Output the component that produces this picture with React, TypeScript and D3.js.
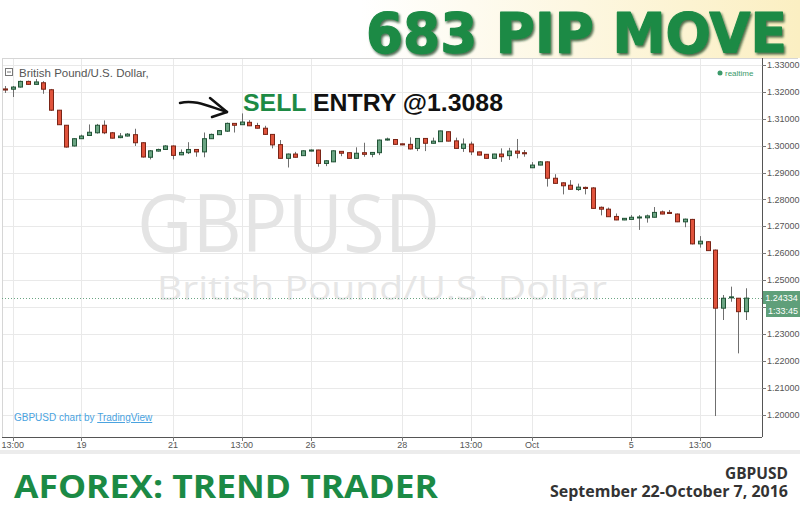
import React from 'react';
import * as d3 from 'd3';

const opens = [1.3211,1.3210,1.3218,1.3239,1.3228,1.3234,1.3208,1.3132,1.3076,1.2999,1.3026,1.3038,1.3048,1.3076,1.3048,1.3030,1.3036,1.3041,1.3011,1.2957,1.2980,1.2986,1.2999,1.2966,1.2974,1.2986,1.2977,1.3026,1.3041,1.3054,1.3083,1.3078,1.3087,1.3075,1.3065,1.3042,1.3004,1.2953,1.2969,1.2963,1.2980,1.2984,1.2934,1.2940,1.2979,1.2974,1.2953,1.2974,1.2968,1.2974,1.3021,1.3023,1.3007,1.3005,1.2990,1.3027,1.3009,1.3015,1.3052,1.3018,1.2990,1.3006,1.2977,1.2968,1.2953,1.2969,1.2963,1.2980,1.2974,1.2918,1.2928,1.2940,1.2879,1.2862,1.2853,1.2837,1.2845,1.2843,1.2771,1.2764,1.2737,1.2724,1.2726,1.2733,1.2732,1.2734,1.2754,1.2752,1.2746,1.2717,1.2726,1.2635,1.2643,1.2612,1.2396,1.2436,1.2433,1.2383];
const highs = [1.3222,1.3222,1.3242,1.3242,1.3248,1.3240,1.3211,1.3133,1.3077,1.3028,1.3041,1.3079,1.3081,1.3094,1.3051,1.3047,1.3047,1.3063,1.3013,1.2984,1.2989,1.3002,1.3001,1.2986,1.3013,1.2987,1.3049,1.3045,1.3058,1.3086,1.3084,1.3120,1.3095,1.3085,1.3074,1.3043,1.3021,1.2971,1.2977,1.2983,1.2986,1.2985,1.2946,1.2983,1.2980,1.2975,1.2994,1.3011,1.2976,1.3023,1.3030,1.3025,1.3008,1.3031,1.3028,1.3028,1.3030,1.3056,1.3053,1.3030,1.3027,1.3015,1.2978,1.2969,1.2970,1.2990,1.2992,1.3025,1.2984,1.2939,1.2943,1.2942,1.2894,1.2864,1.2872,1.2859,1.2848,1.2846,1.2774,1.2770,1.2748,1.2731,1.2742,1.2742,1.2744,1.2772,1.2759,1.2761,1.2748,1.2729,1.2728,1.2664,1.2645,1.2614,1.2445,1.2476,1.2434,1.2470];
const lows = [1.3196,1.3181,1.3216,1.3226,1.3226,1.3193,1.3129,1.3077,1.2993,1.2997,1.3025,1.3036,1.3045,1.3043,1.3027,1.3028,1.3034,1.2999,1.2956,1.2949,1.2978,1.2985,1.2949,1.2965,1.2969,1.2959,1.2957,1.3025,1.3040,1.3051,1.3049,1.3077,1.3073,1.3064,1.3040,1.2990,1.2952,1.2919,1.2956,1.2962,1.2979,1.2922,1.2924,1.2939,1.2961,1.2952,1.2952,1.2959,1.2957,1.2965,1.3019,1.3003,1.3002,1.2986,1.2980,1.2980,1.3008,1.3014,1.3016,1.2989,1.2977,1.2965,1.2964,1.2952,1.2952,1.2940,1.2947,1.2953,1.2959,1.2917,1.2927,1.2848,1.2859,1.2819,1.2837,1.2832,1.2819,1.2765,1.2741,1.2735,1.2723,1.2723,1.2726,1.2687,1.2714,1.2733,1.2745,1.2748,1.2716,1.2697,1.2633,1.2621,1.2609,1.1995,1.2352,1.2420,1.2228,1.2352];
const closes = [1.3207,1.3218,1.3239,1.3228,1.3237,1.3210,1.3132,1.3078,1.2995,1.3026,1.3036,1.3050,1.3076,1.3048,1.3028,1.3036,1.3043,1.3011,1.2958,1.2981,1.2986,1.2999,1.2964,1.2975,1.2986,1.2977,1.3026,1.3042,1.3056,1.3083,1.3076,1.3088,1.3074,1.3065,1.3042,1.3003,1.2953,1.2969,1.2957,1.2981,1.2984,1.2934,1.2944,1.2981,1.2972,1.2953,1.2972,1.2968,1.2975,1.3021,1.3025,1.3005,1.3003,1.2988,1.3027,1.3009,1.3017,1.3055,1.3017,1.2990,1.3006,1.2977,1.2965,1.2953,1.2969,1.2959,1.2980,1.2972,1.2970,1.2928,1.2940,1.2879,1.2860,1.2851,1.2838,1.2846,1.2841,1.2767,1.2764,1.2736,1.2724,1.2730,1.2734,1.2735,1.2739,1.2752,1.2746,1.2748,1.2717,1.2727,1.2635,1.2645,1.2610,1.2396,1.2433,1.2438,1.2383,1.24334];

const xTickIndex = [1, 10, 22, 31, 40, 52, 61, 69, 82, 91];
const xTickLabels = ['13:00', '19', '21', '13:00', '26', '28', '13:00', 'Oct', '5', '13:00'];
const priceTicks = [1.20, 1.21, 1.22, 1.23, 1.24, 1.25, 1.26, 1.27, 1.28, 1.29, 1.30, 1.31, 1.32, 1.33];
const lastPrice = 1.24334;
const countdown = '1:33:45';
const entryLabel = '@1.3088';

export default function App() {
  const plotL = 2, plotR = 762, plotT = 58, plotB = 437;
  const n = opens.length;
  const x = d3.scaleLinear().domain([0, n - 1]).range([5.06, 5.06 + (n - 1) * 7.637]);
  const y = d3.scaleLinear().domain([1.20, 1.33]).range([414.7, 65]);
  const candles = d3.range(n).map(i => ({ o: opens[i], h: highs[i], l: lows[i], c: closes[i], i }));
  const axisFont = "'Liberation Sans', Arial, sans-serif";
  const yLast = y(lastPrice);
  const shownTicks = priceTicks.filter(p => Math.abs(y(p) - (yLast + 6)) > 14);

  return (
    <svg width={800} height={512} viewBox="0 0 800 512" style={{ position: 'absolute', left: 0, top: 0, background: '#fff' }}>
      <defs>
        <linearGradient id="hdr" x1="0" x2="1" y1="0" y2="0">
          <stop offset="0" stopColor="#ffffff" />
          <stop offset="0.45" stopColor="#ffffff" />
          <stop offset="1" stopColor="#fbefc2" />
        </linearGradient>
        <filter id="shadow" x="-5%" y="-20%" width="110%" height="140%">
          <feDropShadow dx="1.5" dy="2" stdDeviation="1" floodColor="#0b3d1d" floodOpacity="0.75" />
        </filter>
      </defs>
      <rect x={0} y={0} width={800} height={512} fill="#fff" />
      <rect x={0} y={0} width={800} height={58} fill="url(#hdr)" />
      <text x={366} y={52} fontFamily="'DejaVu Sans', Verdana, sans-serif" fontWeight="bold" fontSize={56}
        fill="#1b8a45" stroke="#1b8a45" strokeWidth={1.2} strokeLinejoin="round"
        textLength={421} lengthAdjust="spacingAndGlyphs" filter="url(#shadow)">683 PIP MOVE</text>

      {/* panel */}
      <rect x={plotL} y={plotT} width={798 - plotL} height={plotB - plotT} fill="#fff" />
      {priceTicks.map(p => (
        <line key={'h' + p} x1={plotL} x2={plotR} y1={Math.round(y(p)) + 0.5} y2={Math.round(y(p)) + 0.5} stroke="#e9e9e9" strokeWidth={1} />
      ))}
      {xTickIndex.map((t, k) => (
        <line key={'v' + k} x1={Math.round(x(t)) + 0.5} x2={Math.round(x(t)) + 0.5} y1={plotT} y2={plotB} stroke="#e9e9e9" strokeWidth={1} />
      ))}
      <line x1={plotL} x2={798} y1={plotT + 0.5} y2={plotT + 0.5} stroke="#d6d6d6" />
      <line x1={plotL + 0.5} x2={plotL + 0.5} y1={plotT} y2={plotB} stroke="#d6d6d6" />

      {/* watermark */}
      <text x={137} y={252} fontFamily="'Open Sans', sans-serif" fontSize={80} fill="#e4e4e4" textLength={303} lengthAdjust="spacingAndGlyphs">GBPUSD</text>
      <text x={157} y={300} fontFamily="'Open Sans', sans-serif" fontSize={33} fill="#e6e6e6" textLength={450} lengthAdjust="spacingAndGlyphs">British Pound/U.S. Dollar</text>

      {/* legend */}
      <rect x={5.5} y={68.5} width={7} height={7} fill="none" stroke="#777" strokeWidth={1} />
      <line x1={7} x2={11} y1={72} y2={72} stroke="#777" />
      <text x={19} y={77} fontFamily={axisFont} fontSize={11.5} fill="#555">British Pound/U.S. Dollar,</text>
      <circle cx={720} cy={73} r={2.5} fill="#3b9a6a" />
      <text x={725} y={76} fontFamily={axisFont} fontSize={8} fill="#3b9a6a">realtime</text>
      <text x={14} y={421} fontFamily={axisFont} fontSize={10} fill="#4aa3df">GBPUSD chart by <tspan style={{ textDecoration: 'underline' }}>TradingView</tspan></text>

      {/* last price line */}
      <line x1={plotL} x2={plotR} y1={Math.round(yLast) + 0.5} y2={Math.round(yLast) + 0.5} stroke="#6ba583" strokeDasharray="1,2" />

      {/* candles */}
      {candles.map(d => {
        const cx = Math.round(x(d.i));
        const up = d.c >= d.o;
        const top = y(Math.max(d.o, d.c));
        const bot = y(Math.min(d.o, d.c));
        const h = Math.max(1, bot - top);
        return (
          <g key={d.i}>
            <line x1={cx + 0.5} x2={cx + 0.5} y1={y(d.h)} y2={y(d.l)} stroke="#6f6f6f" strokeWidth={1} />
            <rect x={cx - 1.5} y={top} width={4} height={h} fill={up ? '#6ba583' : '#e0533c'} stroke={up ? '#225437' : '#7a2416'} strokeWidth={1} />
          </g>
        );
      })}

      {/* annotation */}
      <path d="M180,103 C195,99 210,107 227,112" fill="none" stroke="#111" strokeWidth={2.5} strokeLinecap="round" />
      <path d="M210,98 L227,112 L212,117" fill="none" stroke="#111" strokeWidth={2.5} strokeLinecap="round" strokeLinejoin="round" />
      <text x={243} y={111} fontFamily="'Liberation Sans', Arial, sans-serif" fontWeight="bold" fontSize={23.5} textLength={260} lengthAdjust="spacingAndGlyphs">
        <tspan fill="#1d8a44">SELL</tspan><tspan fill="#111"> ENTRY {entryLabel}</tspan>
      </text>

      {/* axes */}
      <line x1={plotR + 0.5} x2={plotR + 0.5} y1={plotT} y2={plotB} stroke="#555" />
      <line x1={plotL} x2={plotR} y1={plotB + 0.5} y2={plotB + 0.5} stroke="#555" />
      {priceTicks.map(p => (
        <line key={'ytl' + p} x1={plotR} x2={plotR + 4} y1={Math.round(y(p)) + 0.5} y2={Math.round(y(p)) + 0.5} stroke="#777" />
      ))}
      {shownTicks.map(p => (
        <text key={'yt' + p} x={767} y={y(p) + 3} fontFamily={axisFont} fontSize={9} fill="#555">{p.toFixed(5)}</text>
      ))}
      {xTickIndex.map((t, k) => (
        <g key={'xt' + k}>
          <line x1={Math.round(x(t)) + 0.5} x2={Math.round(x(t)) + 0.5} y1={plotB} y2={plotB + 4} stroke="#777" />
          <text x={x(t)} y={448} textAnchor="middle" fontFamily={axisFont} fontSize={9} fill="#555">{xTickLabels[k]}</text>
        </g>
      ))}
      <rect x={763} y={291} width={37} height={13} fill="#5f9f7a" />
      <text x={781.5} y={301} textAnchor="middle" fontFamily={axisFont} fontSize={9} fill="#fff">{lastPrice.toFixed(5)}</text>
      <rect x={766} y={304} width={34} height={13} fill="#5f9f7a" />
      <text x={783} y={314} textAnchor="middle" fontFamily={axisFont} fontSize={9} fill="#fff">{countdown}</text>
      <rect x={0} y={450} width={800} height={4} fill="#ececec" />

      {/* footer */}
      <text x={14} y={498} fontFamily="'Open Sans', sans-serif" fontWeight="bold" fontSize={32.5} fill="#1b8a45" textLength={424} lengthAdjust="spacingAndGlyphs">AFOREX: TREND TRADER</text>
      <text x={725} y={479} fontFamily="'Open Sans', sans-serif" fontWeight="bold" fontSize={16} fill="#333" textLength={63} lengthAdjust="spacingAndGlyphs">GBPUSD</text>
      <text x={550} y={497} fontFamily="'Open Sans', sans-serif" fontWeight="bold" fontSize={16} fill="#333" textLength={238} lengthAdjust="spacingAndGlyphs">September 22-October 7, 2016</text>
    </svg>
  );
}
